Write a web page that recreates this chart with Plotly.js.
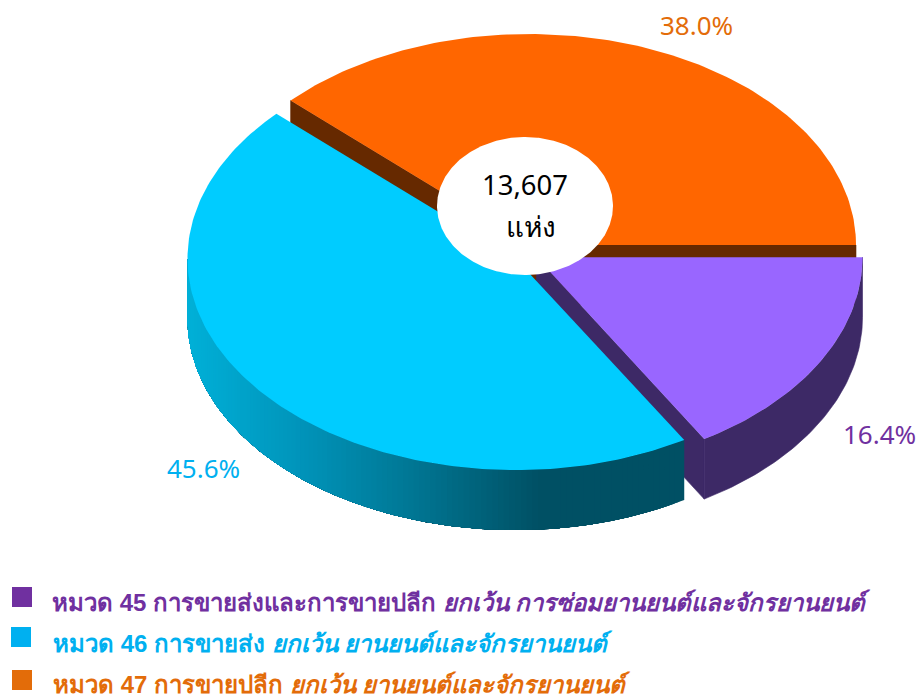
<!DOCTYPE html>
<html><head><meta charset="utf-8">
<script src="https://cdn.plot.ly/plotly-3.0.1.min.js"></script>
<style>html,body{margin:0;padding:0;background:#fff}</style></head>
<body><div id="chart" style="width:916px;height:698px"></div>
<script>
// ---- chart data ----
const categories = ['หมวด 45','หมวด 46','หมวด 47'];
const descriptions = [
  'การขายส่งและการขายปลีก <i>ยกเว้น การซ่อมยานยนต์และจักรยานยนต์</i>',
  'การขายส่ง <i>ยกเว้น ยานยนต์และจักรยานยนต์</i>',
  'การขายปลีก <i>ยกเว้น ยานยนต์และจักรยานยนต์</i>'
];
const shares = [16.4, 45.6, 38.0];
const centerValue = '13,607';
const centerUnit = 'แห่ง';
// ---- styles ----
const topColors = ['#9966FF','#00CCFF','#FF6600'];
const sideColors = ['#3D2966','#005060','#662900'];
const textColors = ['#7030A0','#00B0F0','#E36C09'];
const FONT = '"Noto Sans","DejaVu Sans",sans-serif';
const LEGEND_FONT = '"Liberation Sans","Noto Sans",sans-serif';
// ---- projection of the tilted pie onto the page ----
const DEPTH = 60;
const centers = [{x:536.5,y:257.3,rx:326,ry:212},{x:515.5,y:258.6,rx:328,ry:211.5},{x:529,y:245,rx:327,ry:211}];
const deg = Math.PI/180;
let acc = 0;
const spans = shares.map(v => { const s = acc; acc += v; return [s*3.6, acc*3.6]; });
const pt = (c,t,dz=0) => [c.x + c.rx*Math.cos(t*deg), c.y + c.ry*Math.sin(t*deg) + dz];
function poly(pts,color,lw=0){
  pts = pts.concat([pts[0]]);
  return {type:'scatter',mode:'lines',x:pts.map(p=>p[0]),y:pts.map(p=>p[1]),fill:'toself',fillcolor:color,
    line:{color:color,width:lw},hoverinfo:'skip',showlegend:false};
}
function arc(c,a,b,dz=0){
  const out=[]; const n=Math.max(2,Math.ceil(Math.abs(b-a)));
  for(let i=0;i<=n;i++) out.push(pt(c,a+(b-a)*i/n,dz));
  return out;
}
function topFace(i){ const c=centers[i]; return poly([[c.x,c.y]].concat(arc(c,spans[i][0],spans[i][1])),topColors[i]); }
function cutFace(i,angle){
  const c=centers[i], p=pt(c,angle);
  return poly([[c.x,c.y],p,[p[0],p[1]+DEPTH],[c.x,c.y+DEPTH]],sideColors[i],0.6);
}
function wall(i,a,b){ return poly(arc(centers[i],a,b).concat(arc(centers[i],b,a,DEPTH)),sideColors[i],0.6); }
// horizontal shading of the blue wall
function wallShade(x){
  const stops=[[187,[0,176,216]],[300,[0,148,186]],[400,[0,122,152]],[540,[0,80,100]],[684,[0,80,100]]];
  for(let k=1;k<stops.length;k++){ if(x<=stops[k][0]){
    const f=(x-stops[k-1][0])/(stops[k][0]-stops[k-1][0]);
    const a=stops[k-1][1],b=stops[k][1];
    return 'rgb('+a.map((v,j)=>Math.round(v+(b[j]-v)*f)).join(',')+')';
  }}
  return 'rgb(0,80,100)';
}
const traces=[];
// orange: cut faces then top
traces.push(cutFace(2,spans[2][0]), cutFace(2,0), topFace(2));
// purple: cut face, outer wall, top
traces.push(cutFace(0,spans[0][1]), wall(0,0,spans[0][1]), topFace(0));
// blue: shaded wall, painted from the dark end, each band reaching to the left rim so no seams show
const b0=spans[1][0], STEP=1;
for(let t=b0;t<180;t+=STEP){
  const e=Math.min(180,t+STEP), c=centers[1];
  const col=wallShade(pt(c,(t+e)/2)[0]);
  traces.push(poly(arc(c,t,180).concat(arc(c,180,t,DEPTH)),col));
}
traces.push(topFace(1));
// white hub
const hub={x:525,y:206,rx:88,ry:69};
traces.push(poly(arc(hub,0,360),'#FFFFFF'));

const labelPos=[[879,434],[203,468],[696,24.5]];
const annotations=shares.map((v,i)=>({x:labelPos[i][0],y:labelPos[i][1],xref:'x',yref:'y',showarrow:false,
  xanchor:'center',yanchor:'middle',text:v.toFixed(1)+'%',font:{family:FONT,size:26,color:textColors[i]}}));
annotations.push({x:525,y:184,xref:'x',yref:'y',showarrow:false,text:centerValue,font:{family:FONT,size:27.5,color:'#000'}});
annotations.push({x:531,y:226,xref:'x',yref:'y',showarrow:false,text:centerUnit,font:{family:FONT,size:28,color:'#000'}});
const legendX=[50,51,51], legendY=[602,643,684], markX=[22,21,22], markY=[597,637,680];
const shapes=[];
categories.forEach((cat,i)=>{
  annotations.push({x:legendX[i],y:legendY[i],xref:'x',yref:'y',xanchor:'left',yanchor:'middle',showarrow:false,
    text:'<b>'+cat+' '+descriptions[i]+'</b>',font:{family:LEGEND_FONT,size:24,color:textColors[i]}});
  shapes.push({type:'rect',xref:'x',yref:'y',x0:markX[i]-10,x1:markX[i]+10,y0:markY[i]-10,y1:markY[i]+10,
    fillcolor:textColors[i],line:{width:0},layer:'above'});
});
Plotly.newPlot('chart',traces,{
  width:916,height:698,margin:{l:0,r:0,t:0,b:0},paper_bgcolor:'#fff',plot_bgcolor:'#fff',showlegend:false,
  xaxis:{range:[0,916],visible:false,fixedrange:true},
  yaxis:{range:[698,0],visible:false,fixedrange:true},
  annotations,shapes
},{displayModeBar:false,staticPlot:true});
</script></body></html>
